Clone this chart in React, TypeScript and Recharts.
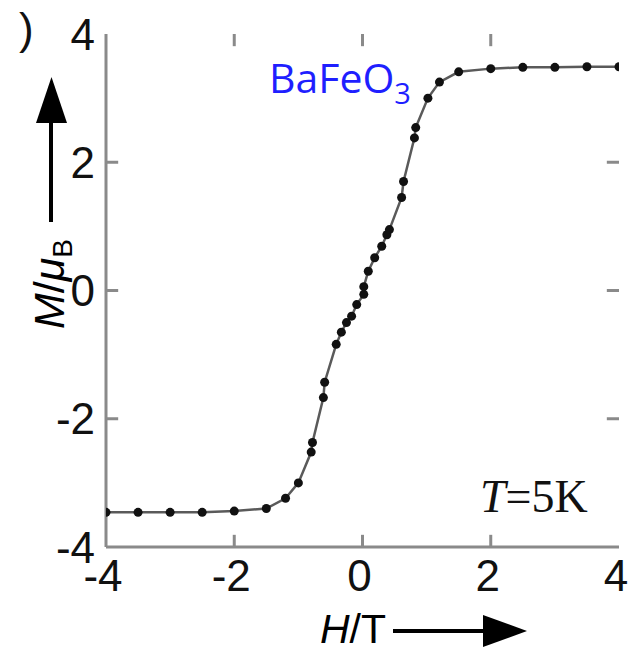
import React from 'react';
import { ComposedChart, Line, XAxis, YAxis, ReferenceLine, Customized } from 'recharts';

// Magnetic field H (T) and magnetization M (μB)
const fieldH = [-4, -3.5, -3, -2.5, -2, -1.5, -1.2, -1.0, -0.8, -0.78, -0.61, -0.59, -0.41, -0.33, -0.25, -0.17, -0.09, 0.02, 0.02, 0.09, 0.19, 0.3, 0.38, 0.42, 0.61, 0.64, 0.81, 0.83, 1.02, 1.2, 1.5, 2, 2.5, 3, 3.5, 4];
const momentM = [-3.46, -3.46, -3.46, -3.46, -3.44, -3.4, -3.24, -3.0, -2.52, -2.37, -1.67, -1.43, -0.84, -0.65, -0.5, -0.4, -0.22, -0.06, 0.06, 0.3, 0.51, 0.69, 0.87, 0.95, 1.45, 1.7, 2.38, 2.54, 3.0, 3.25, 3.41, 3.46, 3.48, 3.48, 3.49, 3.49];
const xTicks = [-4, -2, 0, 2, 4];
const yTicks = [-4, -2, 0, 2, 4];
const innerXTicks = [-2, 0, 2];
const innerYTicks = [-2, 0, 2];

const data = fieldH.map((h, i) => ({ h, m: momentM[i] }));

const FRAME = '#8a8a8a';
const SANS = '"Liberation Sans", Arial, sans-serif';
const TICK_UNITS = 0.19; // inward tick length in axis units (about 12 px)

const Annotations = () => (
  <g>
    {/* stray panel bracket */}
    <text x={19} y={44} fontSize={44} fontFamily={SANS} fill="#111">)</text>
    {/* y label arrow */}
    <line x1={51} y1={222} x2={51} y2={120} stroke="#000" strokeWidth={4} />
    <polygon points="36,123 67,123 51.5,77" fill="#000" />
    <text
      transform="translate(64,284) rotate(-90)"
      textAnchor="middle"
      fontSize={43}
      fontFamily={SANS}
      fill="#000"
    >
      <tspan fontStyle="italic">M</tspan>
      <tspan>/</tspan>
      <tspan fontStyle="italic">μ</tspan>
      <tspan fontSize={28} dy={8}>B</tspan>
    </text>
    {/* x label arrow */}
    <text x={320} y={643} fontSize={41} fontFamily={SANS} fill="#000">
      <tspan fontStyle="italic">H</tspan>
      <tspan>/T</tspan>
    </text>
    <line x1={393} y1={631} x2={486} y2={631} stroke="#000" strokeWidth={4} />
    <polygon points="483,615 483,647 527,631" fill="#000" />
    {/* compound name */}
    <text x={269} y={93} fontSize={41} fontFamily='"Open Sans", sans-serif' fill="#1f1fff">
      BaFeO<tspan fontSize={29} dy={11}>3</tspan>
    </text>
    {/* temperature */}
    <text x={480} y={512} fontSize={46} fontFamily='"Liberation Serif", "Times New Roman", serif' fill="#111">
      <tspan fontStyle="italic">T</tspan>=5K
    </text>
  </g>
);

const tickStyle = { stroke: FRAME, strokeWidth: 3 };

export default function App() {
  return (
    <div style={{ position: 'absolute', left: 0, top: 0, background: '#fff' }}>
      <ComposedChart
        width={631}
        height={652}
        data={data}
        margin={{ top: 34, right: 12, bottom: 0, left: 0 }}
      >
        <XAxis
          dataKey="h"
          type="number"
          domain={[-4, 4]}
          ticks={xTicks}
          height={105}
          axisLine={{ stroke: FRAME, strokeWidth: 3 }}
          tickLine={false}
          tickSize={0}
          tickMargin={13}
          tick={{ fill: '#111', fontSize: 44, fontFamily: SANS, dx: -3 }}
          interval={0}
          allowDataOverflow
        />
        <XAxis
          xAxisId="top"
          orientation="top"
          type="number"
          domain={[-4, 4]}
          ticks={xTicks}
          height={0}
          axisLine={{ stroke: FRAME, strokeWidth: 3 }}
          tickLine={false}
          tick={false}
        />
        <YAxis
          type="number"
          domain={[-4, 4]}
          ticks={yTicks}
          width={106}
          axisLine={{ stroke: FRAME, strokeWidth: 3 }}
          tickLine={false}
          tickSize={0}
          tickMargin={11}
          tick={{ fill: '#111', fontSize: 44, fontFamily: SANS }}
          interval={0}
          allowDataOverflow
        />
        <YAxis
          yAxisId="right"
          orientation="right"
          type="number"
          domain={[-4, 4]}
          ticks={yTicks}
          width={0}
          axisLine={{ stroke: FRAME, strokeWidth: 3 }}
          tickLine={false}
          tick={false}
        />
        {innerXTicks.map((t) => (
          <ReferenceLine
            key={`b${t}`}
            segment={[{ x: t, y: -4 }, { x: t, y: -4 + TICK_UNITS }]}
            {...tickStyle}
            ifOverflow="visible"
          />
        ))}
        {innerXTicks.map((t) => (
          <ReferenceLine
            key={`t${t}`}
            segment={[{ x: t, y: 4 }, { x: t, y: 4 - TICK_UNITS }]}
            {...tickStyle}
            ifOverflow="visible"
          />
        ))}
        {innerYTicks.map((t) => (
          <ReferenceLine
            key={`l${t}`}
            segment={[{ x: -4, y: t }, { x: -4 + TICK_UNITS, y: t }]}
            {...tickStyle}
            ifOverflow="visible"
          />
        ))}
        {innerYTicks.map((t) => (
          <ReferenceLine
            key={`r${t}`}
            segment={[{ x: 4, y: t }, { x: 4 - TICK_UNITS, y: t }]}
            {...tickStyle}
            ifOverflow="visible"
          />
        ))}
        <Line
          dataKey="m"
          type="linear"
          stroke="#5a5a5a"
          strokeWidth={2.5}
          dot={{ r: 4.5, fill: '#111', stroke: 'none' }}
          isAnimationActive={false}
        />
        <Customized component={Annotations} />
      </ComposedChart>
    </div>
  );
}
